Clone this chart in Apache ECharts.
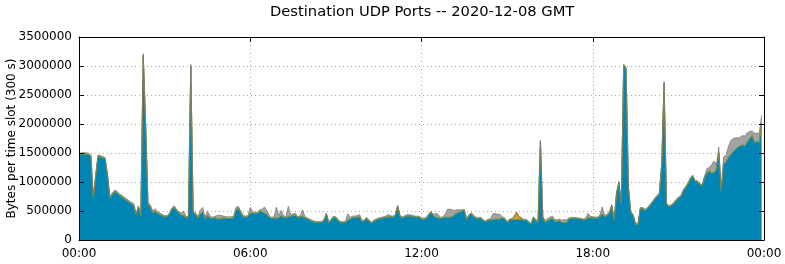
<!DOCTYPE html>
<html>
<head>
<meta charset="utf-8">
<script src="https://cdn.jsdelivr.net/npm/echarts@6/dist/echarts.min.js"></script>
<style>
  html, body { margin: 0; padding: 0; background: #fff; }
  #chart { width: 785px; height: 264px; }
</style>
</head>
<body>
<div id="chart"></div>
<script>
// 5-minute slots over the day, values in thousands of bytes
var slotMinutes = 5;
var slotCount = 288;
var yTickLabels = ['0', '500000', '1000000', '1500000', '2000000', '2500000', '3000000', '3500000'];

var blueK = [
  1470,1475,1480,1480,1470,1440,720,1100,1440,1430,1415,1395,
  1100,720,780,830,810,770,740,710,680,650,620,590,
  430,560,420,3180,2000,600,560,470,490,460,440,420,
  400,400,440,530,560,510,460,430,420,380,400,3000,
  470,440,370,440,480,370,420,380,370,385,360,350,
  360,365,370,370,370,380,520,540,470,400,390,400,
  460,460,455,460,500,480,460,440,390,370,380,375,
  380,420,390,380,400,400,430,420,380,400,400,380,
  360,340,320,305,300,300,300,330,450,290,340,390,
  380,330,300,295,300,340,360,380,385,390,400,310,
  330,370,320,290,320,345,360,370,380,390,395,400,
  390,420,580,400,380,400,410,415,405,395,390,390,
  360,355,370,420,475,420,390,380,370,380,390,390,
  390,400,440,460,480,500,510,350,420,450,400,370,
  370,370,330,315,340,345,350,355,355,360,380,360,
  300,340,350,345,345,345,350,340,340,310,270,380,
  340,300,1690,380,300,330,350,370,320,320,330,300,
  300,300,360,375,375,370,365,360,345,350,380,380,
  380,375,375,400,450,400,420,470,590,340,800,990,
  620,3000,2950,900,470,420,270,260,540,540,510,540,
  590,640,700,750,790,1300,2700,620,570,590,620,680,
  720,740,840,900,960,1050,1100,1010,1000,960,930,1080,
  1150,1180,1150,1160,1220,1500,850,1300,1350,1420,1470,1520,
  1560,1600,1620,1640,1620,1690,1750,1800,1680,1700,1680,2010
];

var grayK = [
  25,25,25,25,25,25,25,25,25,25,25,25,
  30,30,30,30,30,30,30,30,30,30,30,40,
  30,30,30,30,30,30,30,30,50,30,25,20,
  20,20,20,20,30,20,20,40,80,20,20,30,
  20,30,20,60,80,20,80,40,20,20,60,60,
  40,30,30,30,30,30,40,40,30,30,20,20,
  100,30,20,20,20,50,110,60,30,20,20,190,
  40,90,30,20,180,30,20,40,20,20,120,20,
  20,20,20,20,20,20,20,20,15,15,20,20,
  20,20,20,20,20,110,30,30,30,30,40,20,
  20,20,20,20,20,20,20,20,20,20,50,20,
  20,20,20,20,20,20,30,20,20,20,20,20,
  20,20,20,30,20,20,70,60,20,20,60,140,
  140,120,70,60,40,20,15,15,20,20,20,20,
  20,20,20,15,20,20,100,100,90,80,20,20,
  20,20,20,30,20,20,20,15,15,15,15,20,
  20,20,0,20,15,40,40,45,20,30,30,40,
  50,50,20,15,15,15,15,15,15,20,80,30,
  20,20,20,30,120,20,20,20,20,20,20,20,
  20,30,30,20,20,20,20,20,20,20,20,20,
  20,20,20,20,20,20,30,20,20,20,20,20,
  20,20,20,20,20,20,20,20,20,20,20,20,
  80,40,150,200,80,100,20,130,110,180,240,230,
  200,160,150,160,170,160,120,80,160,140,160,140
];

// small layers, only where they show
var orangeSlots = [29, 30, 50, 51, 59, 60, 61, 183, 184, 185, 186, 265];
var orangeK     = [20, 15, 15, 15, 20, 20, 15, 40, 120, 40, 20, 30];
var greenSlots  = [194, 196, 200];
var greenK      = [30, 20, 15];

function pad(n) { return (n < 10 ? '0' : '') + n; }

// one category per slot, plus the closing 24:00 edge
var categories = [];
for (var i = 0; i <= slotCount; i++) {
  var m = (i * slotMinutes) % 1440;
  categories.push(pad(Math.floor(m / 60)) + ':' + pad(m % 60));
}

function sparse(slots, vals) {
  var out = blueK.map(function () { return 0; });
  slots.forEach(function (s, j) { out[s] = vals[j]; });
  return out;
}

function toBytes(arr) {
  return arr.map(function (v) { return v * 1000; });
}

var orangeFull = sparse(orangeSlots, orangeK);
var greenFull = sparse(greenSlots, greenK);

var font = 'DejaVu Sans';
var chart = echarts.init(document.getElementById('chart'), null, { renderer: 'canvas' });

function layer(name, data, fill, line, lw) {
  return {
    name: name,
    type: 'line',
    stack: 'total',
    xAxisIndex: 0,
    yAxisIndex: 0,
    data: toBytes(data),
    showSymbol: false,
    symbol: 'none',
    animation: false,
    lineStyle: { color: line, width: lw },
    itemStyle: { color: fill },
    areaStyle: { color: fill, opacity: 1 }
  };
}

var tickEvery = 71; // one tick every 6 h (72 slots)

var option = {
  animation: false,
  backgroundColor: '#fff',
  title: {
    text: 'Destination UDP Ports -- 2020-12-08 GMT',
    left: 265,
    top: 0,
    textStyle: { fontFamily: font, fontSize: 14.7, fontWeight: 'normal', color: '#000' }
  },
  grid: { left: 79, right: 21, top: 37, bottom: 24, show: false, containLabel: false, outerBoundsMode: 'none' },
  xAxis: [
    {
      type: 'category', data: categories, boundaryGap: false, position: 'bottom', z: 10,
      axisLine: { show: true, onZero: false, lineStyle: { color: '#000', width: 1 } },
      axisTick: { show: false },
      splitLine: { show: false },
      axisLabel: { interval: tickEvery, margin: 8, fontFamily: font, fontSize: 12, color: '#000' }
    },
    {
      type: 'category', data: categories, boundaryGap: false, position: 'top', z: 10,
      axisLine: { show: true, onZero: false, lineStyle: { color: '#000', width: 1 } },
      axisTick: { show: true, inside: true, length: 5, interval: tickEvery, lineStyle: { color: '#000' } },
      splitLine: { show: false },
      axisLabel: { show: false }
    },
    {
      type: 'category', data: categories, boundaryGap: false, position: 'bottom', z: 0,
      axisLine: { show: false }, axisTick: { show: false }, axisLabel: { show: false },
      splitLine: { show: true, interval: tickEvery, lineStyle: { color: '#a8a8a8', width: 1, type: [1, 3] } }
    }
  ],
  yAxis: [
    {
      type: 'value', position: 'left', min: 0, max: 3500000, interval: 500000, z: 10,
      name: 'Bytes per time slot (300 s)',
      nameLocation: 'middle', nameGap: 61, nameRotate: 90, nameMoveOverlap: false,
      nameTextStyle: { fontFamily: font, fontSize: 12, color: '#000' },
      axisLine: { show: true, onZero: false, lineStyle: { color: '#000', width: 1 } },
      axisTick: { show: true, inside: true, length: 5, lineStyle: { color: '#000' } },
      splitLine: { show: false },
      axisLabel: {
        margin: 7, fontFamily: font, fontSize: 12, color: '#000',
        formatter: function (v) { return yTickLabels[Math.round(v / 500000)]; }
      }
    },
    {
      type: 'value', position: 'right', min: 0, max: 3500000, interval: 500000, z: 10,
      axisLine: { show: true, onZero: false, lineStyle: { color: '#000', width: 1 } },
      axisTick: { show: true, inside: true, length: 5, lineStyle: { color: '#000' } },
      splitLine: { show: false },
      axisLabel: { show: false }
    },
    {
      type: 'value', position: 'left', min: 0, max: 3500000, interval: 500000, z: 0,
      axisLine: { show: false }, axisTick: { show: false }, axisLabel: { show: false },
      splitLine: { show: true, lineStyle: { color: '#a8a8a8', width: 1, type: [1, 3] } }
    }
  ],
  series: [
    layer('blue', blueK, '#0085b4', '#3f6a5a', 0.8),
    layer('orange', orangeFull, '#ef9a00', '#c87a00', 0.6),
    layer('green', greenFull, '#86c83a', '#6aa02a', 0.6),
    layer('gray', grayK, '#a3a3a3', '#7a7a7a', 0.8)
  ]
};

chart.setOption(option);
</script>
</body>
</html>
